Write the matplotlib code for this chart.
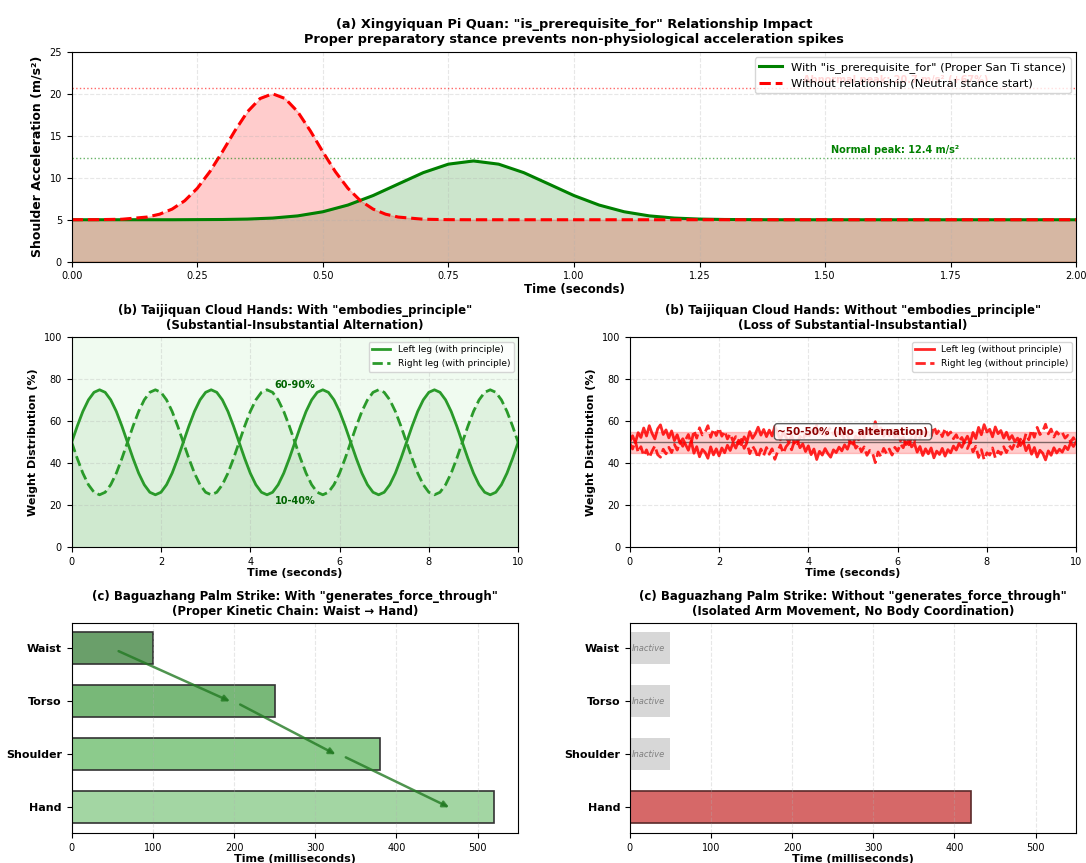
import numpy as np
import matplotlib
matplotlib.use('Agg')
import matplotlib.pyplot as plt

# (a) shoulder acceleration curves
t_with = [0.00, 0.20, 0.30, 0.35, 0.40, 0.45, 0.50, 0.55, 0.60, 0.65, 0.70, 0.75, 0.80,
          0.85, 0.90, 0.95, 1.00, 1.05, 1.10, 1.15, 1.20, 1.25, 1.30, 1.40, 2.00]
acc_with = [5.00, 5.00, 5.03, 5.08, 5.20, 5.46, 5.95, 6.75, 7.88, 9.25, 10.61, 11.62, 12.00,
            11.62, 10.61, 9.25, 7.88, 6.75, 5.95, 5.46, 5.20, 5.08, 5.03, 5.00, 5.00]
t_without = [0.00, 0.05, 0.10, 0.15, 0.175, 0.20, 0.225, 0.25, 0.275, 0.30, 0.325, 0.35, 0.375, 0.40,
             0.425, 0.45, 0.475, 0.50, 0.525, 0.55, 0.575, 0.60, 0.625, 0.65, 0.70, 0.75, 0.80,
             1.00, 1.50, 2.00]
acc_without = [5.00, 5.01, 5.06, 5.32, 5.66, 6.27, 7.26, 8.74, 10.72, 13.09, 15.60, 17.86, 19.43, 20.00,
               19.43, 17.86, 15.60, 13.09, 10.72, 8.74, 7.26, 6.27, 5.66, 5.32, 5.06, 5.01, 5.00,
               5.00, 5.00, 5.00]
normal_peak = 12.4
abnormal_peak = 20.7

# (b) weight distribution, with principle (one sample every 0.125 s)
left_with = [50.0, 57.7, 64.7, 70.2, 73.8, 75.0, 73.8, 70.2, 64.7, 57.7, 50.0, 42.3, 35.3, 29.8, 26.2, 25.0, 26.2, 29.8, 35.3, 42.3,
             50.0, 57.7, 64.7, 70.2, 73.8, 75.0, 73.8, 70.2, 64.7, 57.7, 50.0, 42.3, 35.3, 29.8, 26.2, 25.0, 26.2, 29.8, 35.3, 42.3,
             50.0, 57.7, 64.7, 70.2, 73.8, 75.0, 73.8, 70.2, 64.7, 57.7, 50.0, 42.3, 35.3, 29.8, 26.2, 25.0, 26.2, 29.8, 35.3, 42.3,
             50.0, 57.7, 64.7, 70.2, 73.8, 75.0, 73.8, 70.2, 64.7, 57.7, 50.0, 42.3, 35.3, 29.8, 26.2, 25.0, 26.2, 29.8, 35.3, 42.3,
             50.0]
right_with = [50.0, 42.3, 35.3, 29.8, 26.2, 25.0, 26.2, 29.8, 35.3, 42.3, 50.0, 57.7, 64.7, 70.2, 73.8, 75.0, 73.8, 70.2, 64.7, 57.7,
              50.0, 42.3, 35.3, 29.8, 26.2, 25.0, 26.2, 29.8, 35.3, 42.3, 50.0, 57.7, 64.7, 70.2, 73.8, 75.0, 73.8, 70.2, 64.7, 57.7,
              50.0, 42.3, 35.3, 29.8, 26.2, 25.0, 26.2, 29.8, 35.3, 42.3, 50.0, 57.7, 64.7, 70.2, 73.8, 75.0, 73.8, 70.2, 64.7, 57.7,
              50.0, 42.3, 35.3, 29.8, 26.2, 25.0, 26.2, 29.8, 35.3, 42.3, 50.0, 57.7, 64.7, 70.2, 73.8, 75.0, 73.8, 70.2, 64.7, 57.7,
              50.0]

# (b) weight distribution, without principle (one sample every 0.0625 s)
left_without = [50.2, 53.1, 49.8, 54.6, 52.3, 56.8, 53.0, 57.9, 54.2, 51.6, 56.4, 58.3, 53.7, 55.9, 52.1, 55.4, 50.8, 53.6, 49.5, 51.7,
                48.9, 46.2, 50.7, 44.8, 47.9, 43.1, 46.6, 45.2, 42.4, 47.8, 44.0, 46.9, 43.5, 47.3, 45.0, 48.6, 46.1, 49.7, 47.2, 51.0,
                48.8, 52.6, 50.3, 55.1, 51.9, 54.0, 57.2, 53.4, 56.1, 52.7, 55.8, 53.0, 57.6, 54.3, 51.2, 55.0, 52.4, 50.1, 53.3, 49.6,
                50.9, 47.4, 49.2, 45.6, 48.3, 44.1, 46.8, 41.8, 45.7, 43.9, 47.0, 44.6, 42.9, 46.4, 45.1, 47.7, 45.9, 48.8, 46.7, 50.4,
                49.1, 53.0, 51.2, 54.4, 52.0, 56.3, 53.7, 55.2, 59.8, 54.5, 56.9, 52.8, 55.5, 53.1, 56.0, 52.3, 54.1, 50.7, 52.5, 48.9,
                51.3, 47.8, 49.5, 45.3, 48.0, 43.7, 46.9, 44.5, 47.3, 42.6, 45.8, 44.2, 47.1, 43.4, 46.5, 45.0, 48.2, 46.3, 49.4, 47.6,
                50.5, 52.9, 49.7, 54.7, 51.8, 57.1, 53.6, 58.4, 54.9, 56.2, 52.6, 57.3, 54.1, 55.6, 52.0, 54.8, 51.4, 53.2, 50.3, 52.0,
                48.4, 50.6, 46.0, 48.7, 44.3, 47.5, 43.0, 46.2, 44.8, 41.6, 45.9, 43.8, 47.4, 44.9, 46.7, 45.3, 48.1, 46.5, 49.8, 48.0,
                50.3]
right_without = [49.6, 46.8, 50.5, 45.2, 47.9, 43.6, 46.4, 42.7, 45.8, 48.3, 44.1, 42.9, 46.7, 44.5, 47.6, 45.1, 49.0, 46.3, 50.4, 48.1,
                 51.2, 53.7, 49.4, 55.6, 52.0, 56.9, 53.5, 54.8, 57.9, 52.4, 56.3, 53.2, 56.8, 52.9, 55.3, 51.6, 54.0, 50.5, 52.7, 49.2,
                 51.4, 47.1, 49.8, 44.6, 48.2, 46.0, 42.5, 46.8, 43.7, 47.5, 44.3, 46.9, 41.9, 45.6, 48.7, 44.8, 47.9, 49.6, 46.4, 50.6,
                 49.3, 52.8, 50.9, 54.5, 51.7, 55.9, 53.2, 58.1, 54.4, 56.0, 52.9, 55.7, 57.0, 53.8, 55.0, 52.2, 54.3, 51.1, 53.4, 49.7,
                 50.8, 47.2, 48.9, 45.5, 47.8, 43.8, 46.1, 44.9, 40.3, 45.4, 43.2, 47.1, 44.6, 46.8, 43.9, 47.6, 45.8, 49.2, 47.4, 51.0,
                 48.8, 52.3, 50.4, 54.8, 51.9, 56.4, 53.0, 55.6, 52.8, 57.5, 54.1, 55.9, 52.7, 56.6, 53.4, 54.9, 51.7, 53.6, 50.5, 52.3,
                 49.4, 47.0, 50.2, 45.4, 48.1, 42.8, 46.5, 41.7, 45.0, 43.9, 47.3, 42.6, 45.8, 44.3, 47.9, 45.1, 48.5, 46.7, 49.6, 47.9,
                 51.5, 49.3, 54.1, 51.2, 55.8, 52.4, 57.1, 53.7, 55.2, 58.6, 54.0, 56.3, 52.5, 55.0, 53.4, 54.6, 52.0, 53.3, 50.1, 52.2,
                 49.8]

# (c) kinetic chain timing
segments = ['Waist', 'Torso', 'Shoulder', 'Hand']
times_with = [100, 250, 380, 520]
times_without = [50, 50, 50, 420]
active_without = [False, False, False, True]

fig = plt.figure(figsize=(10.86, 8.63), dpi=100)
gs = fig.add_gridspec(3, 2, left=0.066, right=0.991, top=0.94, bottom=0.035,
                      hspace=0.36, wspace=0.25)

# ---- (a) ----
ax = fig.add_subplot(gs[0, :])
ax.fill_between(t_with, 0, acc_with, color='green', alpha=0.2)
ax.fill_between(t_without, 0, acc_without, color='red', alpha=0.2)
ax.plot(t_with, acc_with, color='green', lw=2.2, label='With "is_prerequisite_for" (Proper San Ti stance)')
ax.plot(t_without, acc_without, color='red', lw=2.2, ls='--', label='Without relationship (Neutral stance start)')
ax.axhline(normal_peak, color='green', ls=':', lw=1, alpha=0.6)
ax.axhline(abnormal_peak, color='red', ls=':', lw=1, alpha=0.6)
ax.text(1.64, normal_peak + 0.6, f'Normal peak: {normal_peak} m/s²', color='green',
        fontsize=7, fontweight='bold', ha='center')
# sits behind the legend, as in the reference
ax.text(1.64, abnormal_peak + 0.6, f'Abnormal peak: {abnormal_peak} m/s² (+67%)', color='red',
        fontsize=7, fontweight='bold', ha='center', alpha=0.8)
ax.set_xlim(0, 2)
ax.set_ylim(0, 25)
ax.set_xticks(np.arange(0, 2.01, 0.25))
ax.set_xlabel('Time (seconds)', fontsize=8.5, fontweight='bold', labelpad=1)
ax.set_ylabel('Shoulder Acceleration (m/s²)', fontsize=9, fontweight='bold')
ax.set_title('(a) Xingyiquan Pi Quan: "is_prerequisite_for" Relationship Impact\n'
             'Proper preparatory stance prevents non-physiological acceleration spikes',
             fontsize=9.3, fontweight='bold')
ax.legend(loc='upper right', fontsize=8.2)
ax.grid(True, ls='--', alpha=0.3)
ax.tick_params(labelsize=7)

# ---- (b) with ----
tb = np.linspace(0, 10, len(left_with))
ax = fig.add_subplot(gs[1, 0])
ax.set_facecolor('#f0fbf0')
ax.fill_between(tb, 0, left_with, color='green', alpha=0.07)
ax.fill_between(tb, 0, right_with, color='green', alpha=0.07)
ax.plot(tb, left_with, color='#2a9a2a', lw=2, label='Left leg (with principle)')
ax.plot(tb, right_with, color='#2a9a2a', lw=2, ls='--', label='Right leg (with principle)')
ax.text(5, 77.5, '60-90%', color='darkgreen', fontsize=7, fontweight='bold', ha='center', va='center')
ax.text(5, 22, '10-40%', color='darkgreen', fontsize=7, fontweight='bold', ha='center', va='center')
ax.set_xlim(0, 10)
ax.set_ylim(0, 100)
ax.set_xlabel('Time (seconds)', fontsize=8, fontweight='bold', labelpad=1)
ax.set_ylabel('Weight Distribution (%)', fontsize=8, fontweight='bold')
ax.set_title('(b) Taijiquan Cloud Hands: With "embodies_principle"\n'
             '(Substantial-Insubstantial Alternation)', fontsize=8.5, fontweight='bold')
ax.legend(loc='upper right', fontsize=6.5)
ax.grid(True, ls='--', alpha=0.3)
ax.tick_params(labelsize=7)

# ---- (b) without ----
tn = np.linspace(0, 10, len(left_without))
ax = fig.add_subplot(gs[1, 1])
ax.axhspan(45, 55, color='red', alpha=0.2)
ax.axhline(50, color='black', lw=1, alpha=0.5)
ax.plot(tn, left_without, color='red', lw=2, alpha=0.85, label='Left leg (without principle)')
ax.plot(tn, right_without, color='red', lw=2, ls='--', alpha=0.85, label='Right leg (without principle)')
ax.text(5, 55, '~50-50% (No alternation)', color='darkred', fontsize=7.5, fontweight='bold',
        ha='center', va='center',
        bbox=dict(boxstyle='round,pad=0.3', facecolor='white', edgecolor='#444444', alpha=0.85))
ax.set_xlim(0, 10)
ax.set_ylim(0, 100)
ax.set_xlabel('Time (seconds)', fontsize=8, fontweight='bold', labelpad=1)
ax.set_ylabel('Weight Distribution (%)', fontsize=8, fontweight='bold')
ax.set_title('(b) Taijiquan Cloud Hands: Without "embodies_principle"\n'
             '(Loss of Substantial-Insubstantial)', fontsize=8.5, fontweight='bold')
ax.legend(loc='upper right', fontsize=6.5)
ax.grid(True, ls='--', alpha=0.3)
ax.tick_params(labelsize=7)

# ---- (c) with ----
ypos = np.arange(len(segments))
greens = ['#6a9f6a', '#78b878', '#8ccb8c', '#a3d6a3']
ax = fig.add_subplot(gs[2, 0])
ax.barh(ypos, times_with, height=0.6, color=greens, edgecolor='#333333', lw=1.2)
for i in range(len(segments) - 1):
    ax.annotate('', xy=(times_with[i + 1] - 55, ypos[i + 1]), xytext=(times_with[i] - 50, ypos[i]),
                arrowprops=dict(arrowstyle='-|>', color='#237a23', lw=1.8, alpha=0.8,
                                mutation_scale=9, shrinkA=5, shrinkB=0))
ax.set_yticks(ypos)
ax.set_yticklabels(segments, fontsize=8, fontweight='bold')
ax.invert_yaxis()
ax.set_xlim(0, 550)
ax.set_xlabel('Time (milliseconds)', fontsize=8, fontweight='bold', labelpad=1)
ax.set_title('(c) Baguazhang Palm Strike: With "generates_force_through"\n'
             '(Proper Kinetic Chain: Waist → Hand)', fontsize=8.5, fontweight='bold')
ax.grid(True, axis='x', ls='--', alpha=0.3)
ax.tick_params(axis='x', labelsize=7)

# ---- (c) without ----
ax = fig.add_subplot(gs[2, 1])
for i, (seg, val, act) in enumerate(zip(segments, times_without, active_without)):
    if act:
        ax.barh(ypos[i], val, height=0.6, color='#d66868', edgecolor='#5a2a2a', lw=1.2)
    else:
        ax.barh(ypos[i], val, height=0.6, color='#d3d3d3', alpha=0.9)
        ax.text(2, ypos[i], 'Inactive', fontsize=6, style='italic', color='gray', va='center')
ax.set_yticks(ypos)
ax.set_yticklabels(segments, fontsize=8, fontweight='bold')
ax.invert_yaxis()
ax.set_xlim(0, 550)
ax.set_xlabel('Time (milliseconds)', fontsize=8, fontweight='bold', labelpad=1)
ax.set_title('(c) Baguazhang Palm Strike: Without "generates_force_through"\n'
             '(Isolated Arm Movement, No Body Coordination)', fontsize=8.5, fontweight='bold')
ax.grid(True, axis='x', ls='--', alpha=0.3)
ax.tick_params(axis='x', labelsize=7)

plt.savefig('out.png', dpi=100)
